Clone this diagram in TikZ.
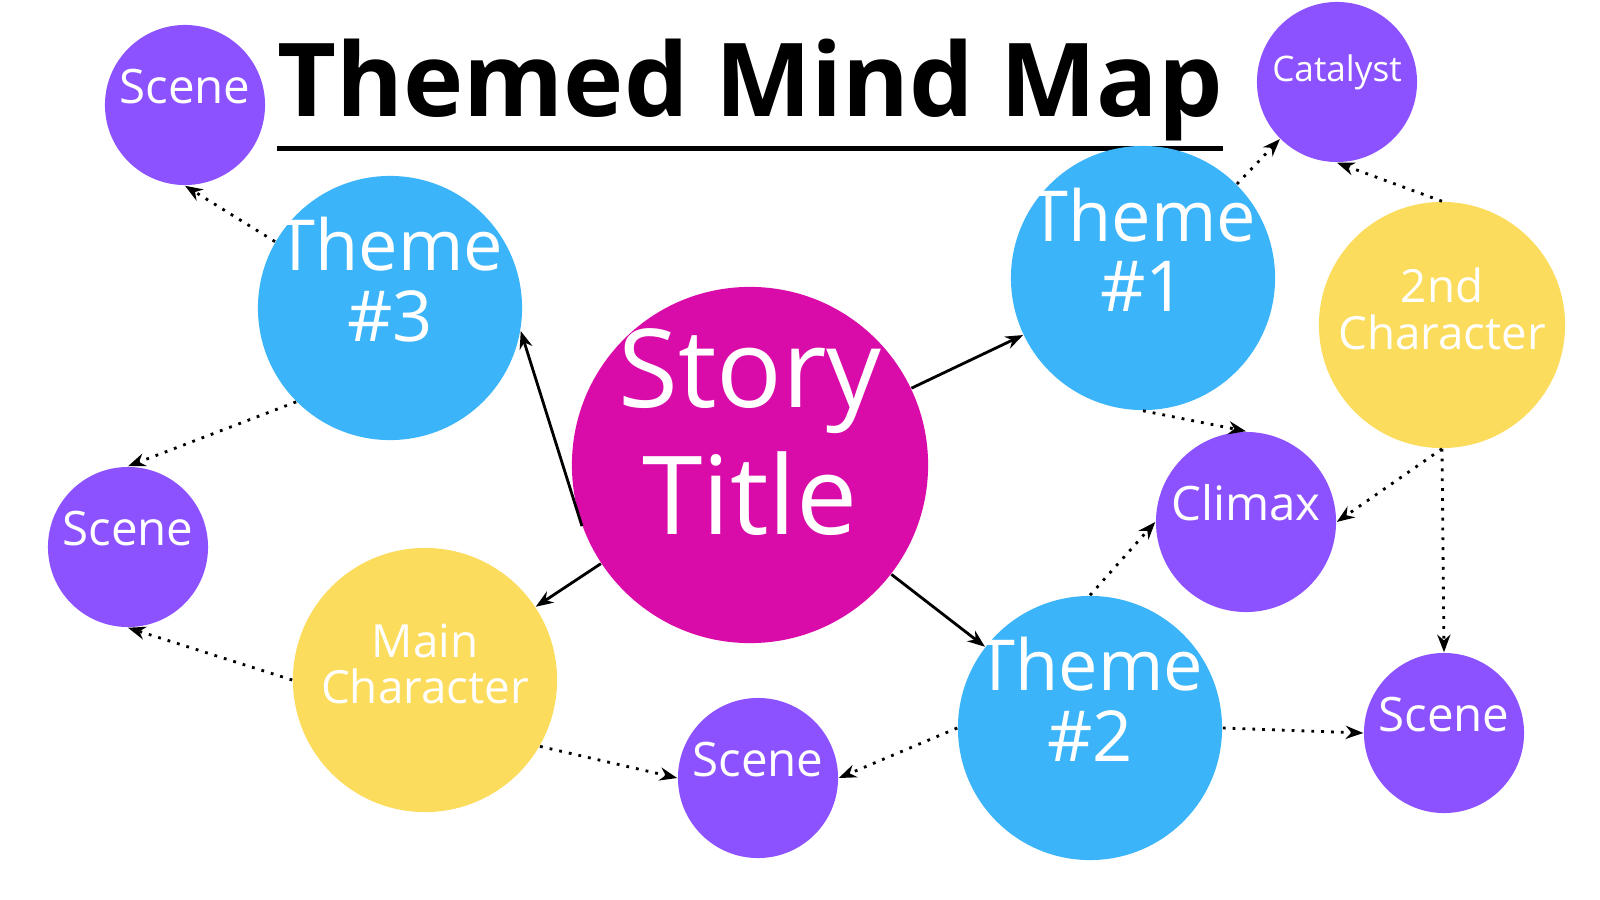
\documentclass[tikz,border=0pt]{standalone}
\usepackage{fontspec}
\setmainfont{Open Sans}
\usetikzlibrary{arrows.meta}
\definecolor{storypink}{HTML}{D90BA9}
\definecolor{themeblue}{HTML}{3BB4F9}
\definecolor{charyellow}{HTML}{FCDC5C}
\definecolor{scenepurple}{HTML}{8C52FF}
% text that does not widen its circle
\newcommand{\ctext}[1]{\makebox[0pt]{\smash{\begin{tabular}{@{}c@{}}#1\end{tabular}}}}
\begin{document}
\begin{tikzpicture}[x=0.01cm, y=-0.01cm, >={Stealth[length=5pt]},
        story_style/.style={circle,inner sep=0pt,fill=storypink,text=white,minimum size=3.56cm,font=\fontsize{31}{40}\selectfont},
        theme_style/.style={circle,inner sep=0pt,fill=themeblue,text=white,minimum size=2.64cm,font=\fontsize{20}{19}\selectfont},
        char_style/.style={circle,inner sep=0pt,fill=charyellow,text=white,font=\fontsize{13}{11}\selectfont},
        scene_style/.style={circle,inner sep=0pt,fill=scenepurple,text=white,minimum size=1.6cm,font=\fontsize{13.5}{16}\selectfont},
        edge_style/.style={draw=black, thick,->},
        dot_edge_style/.style={draw=black, thick, dotted, ->}]
        \useasboundingbox (0,0) rectangle (1600,900);

        \node [font=\bfseries\fontsize{29}{34}\selectfont,inner sep=0pt] (title) at (750,90) {Themed Mind Map};
        \draw [line width=1.4pt] ([yshift=-2pt]title.south west) -- ([yshift=-2pt]title.south east);

        \node [story_style] (story) at (750,465) {\ctext{Story\\[-4pt]Title}};

        \node [theme_style] (t3) at (390,308) {\ctext{Theme\\\#3}};
        \node [theme_style] (t1) at (1143,278) {\ctext{Theme\\\#1}};
        \node [theme_style] (t2) at (1090,728) {\ctext{Theme\\\#2}};

        \node [char_style,minimum size=2.64cm] (mainc) at (425,680) {\ctext{Main\\Character}};
        \node [char_style,minimum size=2.46cm] (secc) at (1442,325) {\ctext{2nd\\Character}};

        \node [scene_style] (s1) at (185,105) {\ctext{Scene}};
        \node [scene_style,font=\fontsize{10}{12}\selectfont] (cat) at (1337,82) {\ctext{Catalyst}};
        \node [scene_style] (s2) at (128,547) {\ctext{Scene}};
        \node [scene_style,minimum size=1.8cm] (climax) at (1246,522) {\ctext{Climax}};
        \node [scene_style] (s3) at (758,778) {\ctext{Scene}};
        \node [scene_style] (s4) at (1444,733) {\ctext{Scene}};

        \draw [edge_style] (story.200) -- (t3.-10);
        \draw [edge_style] (story) -- (t1);
        \draw [edge_style] (story) -- (t2);
        \draw [edge_style] (story) -- (mainc);

        \draw [dot_edge_style] (t3.150) -- (s1.-90);
        \draw [dot_edge_style] (t3.-135) -- (s2.90);
        \draw [dot_edge_style] (mainc.180) -- (s2.-90);
        \draw [dot_edge_style] (mainc.-30) -- (s3.180);
        \draw [dot_edge_style] (t2.180) -- (s3.0);
        \draw [dot_edge_style] (t2.0) -- (s4.180);
        \draw [dot_edge_style] (t2.90) -- (climax.180);
        \draw [dot_edge_style] (t1.-90) -- (climax.90);
        \draw [dot_edge_style] (t1.45) -- (cat.-135);
        \draw [dot_edge_style] (secc.90) -- (cat.-90);
        \draw [dot_edge_style] (secc.-90) -- (climax.0);
        \draw [dot_edge_style] (secc.-90) -- (s4.90);
\end{tikzpicture}
\end{document}
